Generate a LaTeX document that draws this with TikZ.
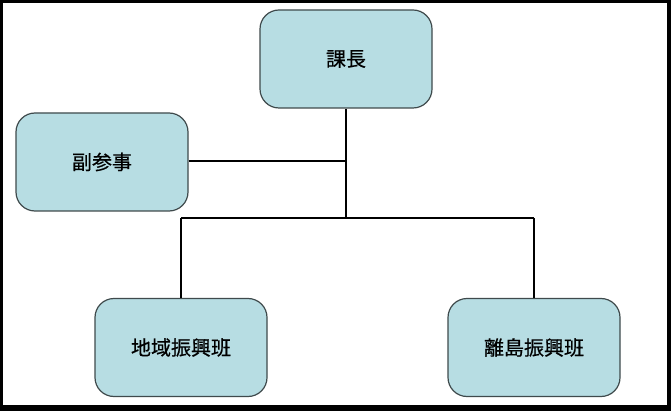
\documentclass[tikz,border=0pt]{standalone}
\usepackage{fontspec}
\newfontfamily\cjk[FakeBold=0.6]{Noto Sans CJK JP}
\definecolor{boxfill}{HTML}{B7DDE3}
\definecolor{boxline}{HTML}{3F4A4C}
\begin{document}
\begin{tikzpicture}[x=1pt,y=-1pt,
  orgbox/.style={draw=boxline, line width=1.2pt, fill=boxfill, rounded corners=19pt,
    minimum width=172pt, minimum height=98pt, inner sep=0pt,
    font=\cjk\fontsize{20}{24}\selectfont, text=black},
  conn/.style={line width=2.4pt, black}]
\useasboundingbox (0,0) rectangle (671,411);
\fill[black] (0,0) rectangle (671,411);
\fill[white] (3,3) rectangle (667,405);
\node[orgbox] (kacho) at (346,59) {課長};
\node[orgbox] (fuku) at (102,162) {副参事};
\node[orgbox] (chiiki) at (181,347.5) {地域振興班};
\node[orgbox] (rito) at (534,347.5) {離島振興班};
\coordinate (j1) at (346,161);
\coordinate (j2) at (346,218);
\coordinate (jl) at (181,218);
\coordinate (jr) at (534,218);
\draw[conn] (kacho.south) -- (j2);
\draw[conn] (fuku.east |- j1) -- (j1);
\draw[conn] (jl) -- (jr);
\draw[conn] (jl) -- (chiiki.north);
\draw[conn] (jr) -- (rito.north);
\end{tikzpicture}
\end{document}
